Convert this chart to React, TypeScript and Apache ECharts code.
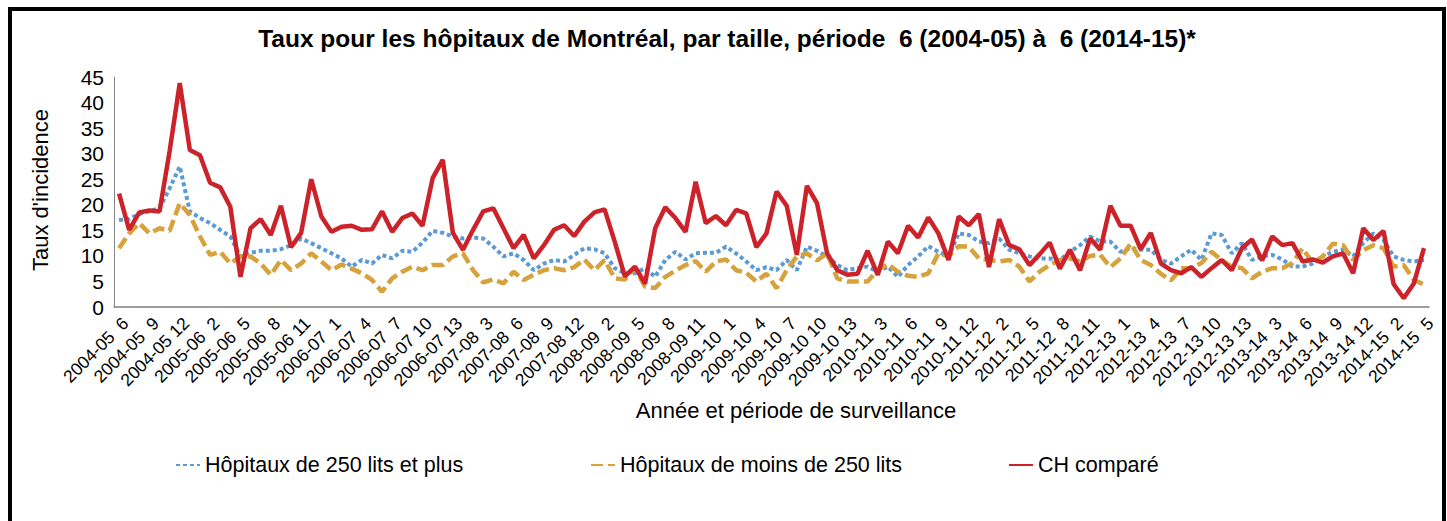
import React, { useEffect, useRef } from "react";
import * as echarts from "echarts";

const years = ["2004-05", "2005-06", "2006-07", "2007-08", "2008-09", "2009-10", "2010-11", "2011-12", "2012-13", "2013-14", "2014-15"];
const firstPeriod = 6;
const lastPeriod = 5;
const periodsPerYear = 13;

const categories: string[] = [];
years.forEach((y, yi) => {
  const start = yi === 0 ? firstPeriod : 1;
  const end = yi === years.length - 1 ? lastPeriod : periodsPerYear;
  for (let p = start; p <= end; p++) categories.push(`${y} ${String(p).padStart(2, " ")}`);
});

const yTicks = [0, 5, 10, 15, 20, 25, 30, 35, 40, 45];

const large250Plus = [
  17.0, 17.2, 18.2, 18.7, 19.4, 23.2, 27.5, 18.7, 17.4, 16.4, 15.1, 13.8, 9.9, 10.6, 11.0, 11.0, 11.3, 12.1, 13.4, 12.5,
  11.5, 10.5, 9.5, 7.9, 9.2, 8.5, 10.2, 9.5, 11.0, 10.8, 12.6, 14.9, 14.5, 13.8, 13.4, 13.6, 13.4, 11.8, 9.9, 10.5,
  9.2, 7.2, 8.5, 9.2, 8.9, 10.2, 11.5, 11.3, 10.5, 7.6, 6.6, 6.6, 7.6, 5.9, 9.2, 10.8,
  9.3, 10.5, 10.6, 10.6, 11.8, 10.5, 8.9, 7.2, 7.8, 7.2, 9.2, 7.2, 11.8, 11.0, 9.9, 8.2, 7.2, 7.6, 7.9, 6.9,
  7.9, 5.9, 8.2, 9.9, 11.9, 10.8, 9.9, 14.4, 14.1, 12.8, 12.5, 13.4, 11.2, 10.5, 9.9, 9.5, 9.5, 9.2,
  10.8, 12.1, 13.8, 12.8, 12.8, 10.8, 11.5, 11.2, 11.2, 9.2, 8.5, 9.9, 11.2, 9.2, 14.4, 14.1, 10.5, 12.5,
  9.2, 9.9, 10.2, 9.3, 7.9, 7.9, 8.5, 9.9, 10.8, 11.2, 9.9, 12.5, 14.4, 13.1, 9.9, 9.2, 8.9, 9.2,
];

const smallUnder250 = [
  11.5, 14.4, 16.4, 14.4, 15.4, 14.9, 20.3, 18.0, 13.8, 10.2, 10.8, 8.5, 9.9, 9.9, 8.5, 6.3, 9.2, 7.2, 8.5, 10.5,
  8.9, 7.2, 8.3, 7.5, 6.6, 5.3, 3.0, 5.6, 6.9, 7.9, 7.2, 8.2, 8.2, 9.9, 10.5, 7.2, 4.8, 5.4, 4.6, 6.9,
  5.3, 6.3, 7.2, 7.6, 7.2, 7.8, 9.3, 7.2, 9.2, 5.6, 5.4, 7.6, 4.0, 3.7, 5.9, 7.1,
  8.2, 9.0, 6.9, 8.9, 9.3, 7.2, 6.7, 5.0, 6.5, 3.7, 7.2, 9.9, 10.5, 9.1, 10.5, 5.6, 5.0, 5.0, 5.0, 7.2,
  8.4, 6.9, 6.1, 5.9, 6.6, 10.5, 9.9, 11.9, 11.8, 9.5, 9.2, 8.9, 9.2, 7.9, 5.0, 6.9, 8.2, 9.2,
  9.5, 8.9, 10.0, 10.2, 7.8, 9.5, 12.4, 9.2, 8.2, 6.5, 5.2, 7.6, 7.6, 8.6, 10.8, 9.2, 7.9, 7.6,
  5.6, 6.9, 7.6, 7.6, 8.6, 11.5, 8.6, 9.9, 12.4, 12.1, 9.2, 11.1, 12.1, 11.5, 7.9, 8.2, 5.3, 4.4,
];

const comparedCH = [
  22.2, 15.1, 18.5, 18.9, 18.7, 30.5, 43.8, 30.7, 29.7, 24.3, 23.4, 19.6, 5.9, 15.4, 17.2, 14.1, 19.8, 11.7, 14.5, 25.0,
  17.7, 14.7, 15.7, 15.9, 15.1, 15.2, 18.7, 14.7, 17.4, 18.3, 15.9, 25.2, 28.8, 14.5, 11.2, 15.1, 18.7, 19.3, 15.4, 11.5,
  14.1, 9.5, 12.1, 15.1, 16.0, 13.9, 16.7, 18.5, 19.1, 12.8, 6.0, 7.9, 4.6, 15.4, 19.5, 17.4,
  14.7, 24.5, 16.4, 17.8, 16.0, 19.0, 18.3, 11.7, 14.4, 22.6, 19.8, 10.2, 23.7, 20.3, 10.5, 7.2, 6.3, 6.5, 11.0, 6.3,
  12.8, 10.5, 15.9, 13.6, 17.5, 14.4, 9.2, 17.7, 16.0, 18.2, 7.8, 17.2, 12.1, 11.3, 8.2, 10.3, 12.6, 7.5,
  11.2, 7.2, 13.4, 11.2, 19.8, 15.9, 15.9, 11.3, 14.5, 8.5, 7.2, 6.6, 7.8, 5.9, 7.6, 9.2, 7.2, 11.5,
  13.2, 9.1, 13.8, 12.1, 12.5, 8.9, 9.3, 8.7, 9.9, 10.5, 6.6, 15.4, 13.1, 14.9, 4.5, 1.7, 4.6, 11.5,
];

const seriesNames = ["Hôpitaux de 250 lits et plus", "Hôpitaux de moins de 250 lits", "CH comparé"];
const titleText = "Taux pour les hôpitaux de Montréal, par taille, période  6 (2004-05) à  6 (2014-15)*";
const yName = "Taux d'incidence";
const xName = "Année et période de surveillance";

const FONT = "'Liberation Sans', Arial, Helvetica, sans-serif";

export default function App() {
  const ref = useRef<HTMLDivElement>(null);
  useEffect(() => {
    document.body.style.margin = "0";
    if (!ref.current) return;
    const chart = echarts.init(ref.current, null, { renderer: "svg" });
    const legendText = { fontSize: 21.5, color: "#000", fontFamily: FONT };
    const legendBase = {
      top: 454,
      padding: 0,
      itemWidth: 24,
      itemHeight: 14,
      itemGap: 0,
      textStyle: legendText,
      selectedMode: false,
      itemStyle: { opacity: 0 },
    };
    chart.setOption({
      animation: false,
      backgroundColor: "#fff",
      textStyle: { fontFamily: FONT },
      grid: { left: 114, right: 18, top: 77, bottom: 214, containLabel: false },
      legend: [
        { ...legendBase, data: [seriesNames[0]], left: 175 },
        { ...legendBase, data: [seriesNames[1]], left: 590 },
        { ...legendBase, data: [seriesNames[2]], left: 1008 },
      ],
      xAxis: {
        type: "category",
        data: categories,
        boundaryGap: true,
        axisLine: { show: true, lineStyle: { color: "#7f7f7f", width: 1.5 } },
        axisTick: { show: false },
        axisLabel: {
          interval: 2,
          rotate: 45,
          fontSize: 17.5,
          color: "#000",
          margin: 7,
          verticalAlign: "top",
          showMinLabel: true,
          showMaxLabel: true,
          hideOverlap: false,
          fontFamily: FONT,
        },
        splitLine: { show: false },
      },
      yAxis: {
        type: "value",
        min: yTicks[0],
        max: yTicks[yTicks.length - 1],
        interval: 5,
        axisLine: { show: true, lineStyle: { color: "#868686", width: 1 } },
        axisTick: { show: false },
        axisLabel: { fontSize: 21, color: "#000", margin: 10, fontFamily: FONT },
        splitLine: { show: false },
      },
      series: [
        {
          name: seriesNames[0],
          type: "line",
          data: large250Plus,
          symbol: "none",
          z: 2,
          lineStyle: { color: "#5B9BD5", width: 4, type: [4, 3], cap: "butt" },
          itemStyle: { color: "#5B9BD5" },
        },
        {
          name: seriesNames[1],
          type: "line",
          data: smallUnder250,
          symbol: "none",
          z: 3,
          lineStyle: { color: "#D6A23C", width: 4.5, type: [12, 5], cap: "butt" },
          itemStyle: { color: "#D6A23C" },
        },
        {
          name: seriesNames[2],
          type: "line",
          data: comparedCH,
          symbol: "none",
          z: 4,
          lineStyle: { color: "#CC2229", width: 4.5, type: "solid" },
          itemStyle: { color: "#CC2229" },
        },
      ],
      graphic: [
        {
          type: "rect",
          silent: true,
          z: 100,
          shape: { x: 10, y: 9, width: 1434, height: 600 },
          style: { fill: "none", stroke: "#000", lineWidth: 4 },
        },
        {
          type: "text",
          x: 727,
          y: 38,
          style: {
            text: titleText,
            fontSize: 24.5,
            fontWeight: "bold",
            fontFamily: FONT,
            fill: "#000",
            align: "center",
            verticalAlign: "middle",
            textAlign: "center",
            textVerticalAlign: "middle",
          },
        },
        {
          type: "text",
          x: 40,
          y: 190,
          rotation: Math.PI / 2,
          style: {
            text: yName,
            fontSize: 22,
            fontFamily: FONT,
            fill: "#000",
            align: "center",
            verticalAlign: "middle",
            textAlign: "center",
            textVerticalAlign: "middle",
          },
        },
        {
          type: "text",
          x: 796,
          y: 410,
          style: {
            text: xName,
            fontSize: 22,
            fontFamily: FONT,
            fill: "#000",
            align: "center",
            verticalAlign: "middle",
            textAlign: "center",
            textVerticalAlign: "middle",
          },
        },
      ],
    });
    return () => chart.dispose();
  }, []);
  return <div ref={ref} style={{ width: 1447, height: 521 }} />;
}
